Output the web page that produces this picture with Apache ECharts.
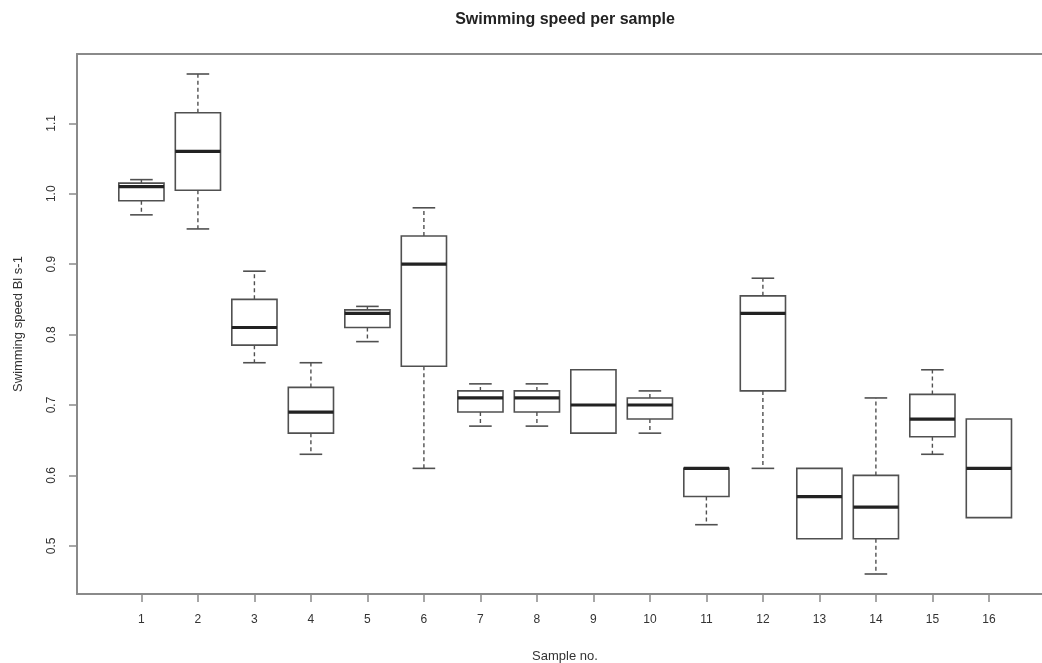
<!DOCTYPE html>
<html>
<head>
<meta charset="utf-8">
<script src="https://cdn.jsdelivr.net/npm/echarts@6/dist/echarts.min.js"></script>
<style>
html,body{margin:0;padding:0;background:#fff;}
#chart{width:1042px;height:663px;}
</style>
</head>
<body>
<div id="chart"></div>
<script>
const samples = [1,2,3,4,5,6,7,8,9,10,11,12,13,14,15,16];
const whiskerLow    = [0.97, 0.95, 0.76, 0.63, 0.79, 0.61, 0.67, 0.67, 0.66, 0.66, 0.53, 0.61, 0.51, 0.46, 0.63, 0.54];
const lowerQuartile = [0.99, 1.005, 0.785, 0.66, 0.81, 0.755, 0.69, 0.69, 0.66, 0.68, 0.57, 0.72, 0.51, 0.51, 0.655, 0.54];
const medians       = [1.01, 1.06, 0.81, 0.69, 0.83, 0.90, 0.71, 0.71, 0.70, 0.70, 0.61, 0.83, 0.57, 0.555, 0.68, 0.61];
const upperQuartile = [1.015, 1.115, 0.85, 0.725, 0.835, 0.94, 0.72, 0.72, 0.75, 0.71, 0.61, 0.855, 0.61, 0.60, 0.715, 0.68];
const whiskerHigh   = [1.02, 1.17, 0.89, 0.76, 0.84, 0.98, 0.73, 0.73, 0.75, 0.72, 0.61, 0.88, 0.61, 0.71, 0.75, 0.68];
const yTicks = [0.5, 0.6, 0.7, 0.8, 0.9, 1.0, 1.1];
const chartTitle = 'Swimming speed per sample';
const xTitle = 'Sample no.';
const yTitle = 'Swimming speed Bl s-1';

const data = samples.map((s, i) => [s, whiskerLow[i], lowerQuartile[i], medians[i], upperQuartile[i], whiskerHigh[i]]);

const FONT = '"Liberation Sans", Arial, Helvetica, sans-serif';
const chart = echarts.init(document.getElementById('chart'), null, {renderer: 'canvas'});

function renderItem(params, api) {
  const x = api.value(0);
  const lo = api.coord([x, api.value(1)]);
  const q1 = api.coord([x, api.value(2)]);
  const md = api.coord([x, api.value(3)]);
  const q3 = api.coord([x, api.value(4)]);
  const hi = api.coord([x, api.value(5)]);
  const boxW = api.size([0.8, 0])[0];
  const capW = api.size([0.4, 0])[0];
  const cx = q1[0];
  const children = [];
  const stroke = '#505050';
  if (Math.abs(hi[1] - q3[1]) > 0.5) {
    children.push({type: 'line', shape: {x1: cx, y1: q3[1], x2: cx, y2: hi[1]}, style: {stroke: stroke, lineWidth: 1.4, lineDash: [4, 3]}});
    children.push({type: 'line', shape: {x1: cx - capW / 2, y1: hi[1], x2: cx + capW / 2, y2: hi[1]}, style: {stroke: stroke, lineWidth: 1.6}});
  }
  if (Math.abs(lo[1] - q1[1]) > 0.5) {
    children.push({type: 'line', shape: {x1: cx, y1: q1[1], x2: cx, y2: lo[1]}, style: {stroke: stroke, lineWidth: 1.4, lineDash: [4, 3]}});
    children.push({type: 'line', shape: {x1: cx - capW / 2, y1: lo[1], x2: cx + capW / 2, y2: lo[1]}, style: {stroke: stroke, lineWidth: 1.6}});
  }
  children.push({type: 'rect', shape: {x: cx - boxW / 2, y: q3[1], width: boxW, height: q1[1] - q3[1]}, style: {fill: '#fff', stroke: stroke, lineWidth: 1.6}});
  children.push({type: 'line', shape: {x1: cx - boxW / 2, y1: md[1], x2: cx + boxW / 2, y2: md[1]}, style: {stroke: '#222', lineWidth: 3.2}});
  return {type: 'group', children: children};
}

chart.setOption({
  animation: false,
  backgroundColor: '#fff',
  grid: {left: 77, right: 0, top: 54, bottom: 69, containLabel: false},
  xAxis: [{
    type: 'value', min: -0.14, max: 16.94, position: 'bottom',
    splitLine: {show: false},
    axisLine: {show: true, onZero: false, lineStyle: {color: '#8a8a8a', width: 2}},
    axisTick: {show: true, length: 8, customValues: samples, lineStyle: {color: '#8a8a8a', width: 1.5}},
    axisLabel: {show: true, customValues: samples, margin: 20, fontSize: 12, fontFamily: FONT, color: '#333', formatter: v => String(v)}
  }, {
    type: 'value', min: -0.14, max: 16.94, position: 'top',
    splitLine: {show: false},
    axisLine: {show: true, onZero: false, lineStyle: {color: '#8a8a8a', width: 2}},
    axisTick: {show: false}, axisLabel: {show: false}
  }],
  yAxis: {
    type: 'value', min: 0.4316, max: 1.1984,
    splitLine: {show: false},
    axisLine: {show: true, onZero: false, lineStyle: {color: '#8a8a8a', width: 2}},
    axisTick: {show: true, length: 8, customValues: yTicks, lineStyle: {color: '#8a8a8a', width: 1.5}},
    axisLabel: {show: true, customValues: yTicks, rotate: 90, margin: 19, fontSize: 12, fontFamily: FONT, color: '#333', formatter: v => v.toFixed(1)}
  },
  series: [{
    type: 'custom',
    xAxisIndex: 0,
    renderItem: renderItem,
    encode: {x: 0, y: [1, 2, 3, 4, 5]},
    data: data,
    clip: false
  }],
  graphic: [
    {type: 'text', x: 565, y: 20, style: {text: chartTitle, font: 'bold 16px ' + FONT, fill: '#222', align: 'center', verticalAlign: 'middle'}},
    {type: 'text', x: 565, y: 656, style: {text: xTitle, font: '13px ' + FONT, fill: '#333', align: 'center', verticalAlign: 'middle'}},
    {type: 'text', x: 18, y: 324, rotation: Math.PI / 2, style: {text: yTitle, font: '13px ' + FONT, fill: '#333', align: 'center', verticalAlign: 'middle'}}
  ]
});
</script>
</body>
</html>
